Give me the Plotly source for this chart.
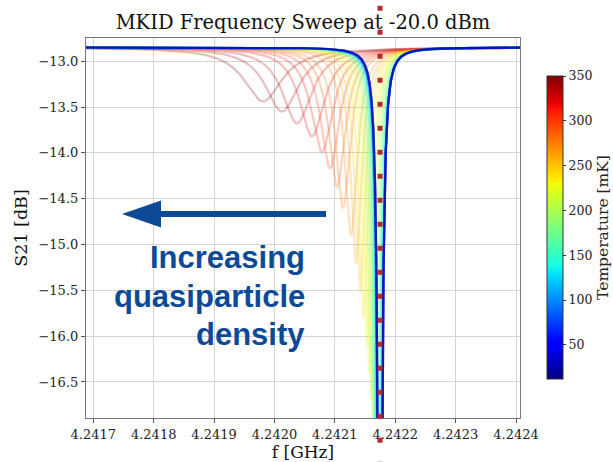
import numpy as np
import plotly.graph_objects as go
from plotly.colors import sample_colorscale

# ---------------- data ----------------
temperature_mK = [12, 20, 30, 40, 50, 60, 70, 80, 90, 100, 110, 120, 130, 140, 150,
                  160, 170, 180, 190, 200, 210, 220, 230, 240, 250, 260, 270, 280,
                  290, 300, 310, 320, 330, 340, 350]
resonance_GHz = [4.2421748, 4.2421748, 4.2421748, 4.2421748, 4.2421748, 4.2421747,
                 4.2421746, 4.2421745, 4.2421743, 4.2421741, 4.2421738, 4.2421733,
                 4.2421728, 4.2421722, 4.2421713, 4.2421702, 4.2421688, 4.2421672,
                 4.2421652, 4.2421627, 4.2421599, 4.2421566, 4.2421524, 4.2421475,
                 4.2421417, 4.2421351, 4.2421268, 4.2421135, 4.2421036, 4.2420920,
                 4.2420787, 4.2420622, 4.2420373, 4.2420125, 4.2419810]
dip_depth_dB = [10.0, 10.0, 10.0, 10.0, 10.0, 9.9, 9.8, 9.6, 9.3, 9.0, 8.6, 8.2, 7.7, 7.2,
                6.6, 6.1, 5.6, 5.1, 4.6, 4.2, 3.85, 3.55, 3.25, 2.95, 2.65, 2.35,
                2.05, 1.75, 1.52, 1.32, 1.14, 0.97, 0.83, 0.70, 0.59]
half_width_kHz = [5.6, 5.6, 5.6, 5.6, 5.6, 5.6, 5.7, 5.8, 5.9, 6.0, 6.1, 6.2, 6.4, 6.6,
                  6.8, 7.0, 7.3, 7.6, 7.9, 8.2, 8.6, 9.2, 9.8, 10.6, 11.6, 12.8,
                  14.2, 16.2, 18.2, 20.5, 23.2, 26.5, 30.6, 34.8, 39.7]
baseline_dB = -12.849

x_ticks = [4.2417, 4.2418, 4.2419, 4.2420, 4.2421, 4.2422, 4.2423, 4.2424]
y_ticks = [-13.0, -13.5, -14.0, -14.5, -15.0, -15.5, -16.0, -16.5]
cbar_ticks = [50, 100, 150, 200, 250, 300, 350]
x_range = [4.2416879, 4.2424066]
y_range = [-16.893, -12.746]
marker_freq_GHz = 4.2421748

# matplotlib "jet"
jet = [[0.0, 'rgb(0,0,128)'], [0.11, 'rgb(0,0,255)'], [0.125, 'rgb(0,0,255)'],
       [0.34, 'rgb(0,219,255)'], [0.35, 'rgb(0,230,247)'], [0.375, 'rgb(21,255,226)'],
       [0.64, 'rgb(239,255,8)'], [0.65, 'rgb(247,246,0)'], [0.66, 'rgb(255,236,0)'],
       [0.89, 'rgb(255,19,0)'], [0.91, 'rgb(232,0,0)'], [1.0, 'rgb(128,0,0)']]

tmin, tmax = min(temperature_mK), max(temperature_mK)
freq = np.linspace(x_range[0], x_range[1], 5000)

fig = go.Figure()
order = np.argsort(temperature_mK)[::-1]   # hottest first, coldest on top
for i in order:
    T = temperature_mK[i]
    c = sample_colorscale(jet, [(T - tmin) / (tmax - tmin)])[0]
    rgb = c[c.index('(') + 1:c.index(')')]
    A = 1 - 10 ** (-dip_depth_dB[i] / 10)
    u = (freq - resonance_GHz[i]) / (half_width_kHz[i] * 1e-6)
    s21 = baseline_dB + 10 * np.log10(1 - A / (1 + u ** 2))
    fig.add_trace(go.Scatter(x=freq, y=s21, mode='lines',
                             line=dict(color='rgba(%s,0.25)' % rgb, width=2.2),
                             hoverinfo='skip', showlegend=False))

# colorbar carrier
fig.add_trace(go.Scatter(
    x=[None] * len(temperature_mK), y=[None] * len(temperature_mK), mode='markers',
    marker=dict(color=temperature_mK, colorscale=jet, cmin=tmin, cmax=tmax,
                showscale=True,
                colorbar=dict(x=1.0615, xanchor='left', xpad=0, ypad=0,
                              y=0.5013, yanchor='middle', len=303, lenmode='pixels',
                              thickness=16, outlinewidth=1, outlinecolor='#333333',
                              tickvals=cbar_ticks, ticks='outside', ticklen=3,
                              tickcolor='#333333',
                              tickfont=dict(family='DejaVu Serif', size=12.5, color='#222'),
                              title=dict(text='Temperature [mK]', side='right',
                                         font=dict(family='DejaVu Serif', size=15.5,
                                                   color='#222')))),
    hoverinfo='skip', showlegend=False))

serif = 'DejaVu Serif'
axis_common = dict(showgrid=True, gridcolor='#d4d4d4', gridwidth=1, zeroline=False,
                   showline=True, linecolor='#777777', linewidth=1.2, mirror=True,
                   ticks='outside', ticklen=4, tickcolor='#555555', automargin=False,
                   tickfont=dict(family=serif, size=13, color='#222'))

fig.update_layout(
    width=613, height=462,
    margin=dict(l=86, r=93, t=38, b=44, autoexpand=False),
    paper_bgcolor='white', plot_bgcolor='white',
    title=dict(text='MKID Frequency Sweep at -20.0 dBm', x=0.5, xanchor='center',
               xref='paper', y=1 - 22 / 462, yanchor='middle', yref='container',
               font=dict(family=serif, size=19.5, color='#111'), automargin=False),
    xaxis=dict(range=x_range, tickvals=x_ticks,
               ticktext=['%.4f' % v for v in x_ticks],
               title=dict(text='f [GHz]', font=dict(family=serif, size=17, color='#111'),
                          standoff=4),
               **axis_common),
    yaxis=dict(range=y_range, tickvals=y_ticks,
               ticktext=['\u2212%.1f' % abs(v) for v in y_ticks],
               title=dict(text='S21 [dB]', font=dict(family=serif, size=17.5, color='#111'),
                          standoff=6),
               **axis_common),
)

blue = '#0c4a96'
# arrow (overlay annotation, in paper coordinates)
fig.add_shape(type='line', xref='paper', yref='paper', x0=0.553, x1=0.15,
              y0=0.5369, y1=0.5369, line=dict(color=blue, width=6), layer='above')
fig.add_shape(type='path', xref='paper', yref='paper',
              path='M 0.0829 0.5369 L 0.1728 0.5725 L 0.1728 0.5013 Z',
              fillcolor=blue, line=dict(color=blue, width=0), layer='above')

for txt, yy in [('Increasing', 0.4222), ('quasiparticle', 0.3210), ('density', 0.2201)]:
    fig.add_annotation(text='<b>%s</b>' % txt, xref='paper', yref='paper',
                       x=0.509, y=yy, xanchor='right', yanchor='middle',
                       showarrow=False,
                       font=dict(family='Liberation Sans', size=31, color=blue))

# dotted resonance marker line spanning the whole picture
xd = (marker_freq_GHz - x_range[0]) / (x_range[1] - x_range[0])
fig.add_shape(type='line', xref='x domain', yref='paper', x0=xd, x1=xd,
              y0=1.0846, y1=-0.13, layer='above',
              line=dict(color='#b52a2a', width=5, dash='5px,19px'))

fig.write_html('out.html', config={'displayModeBar': False},
               post_script="document.body.style.margin='0';document.body.style.padding='0';")
